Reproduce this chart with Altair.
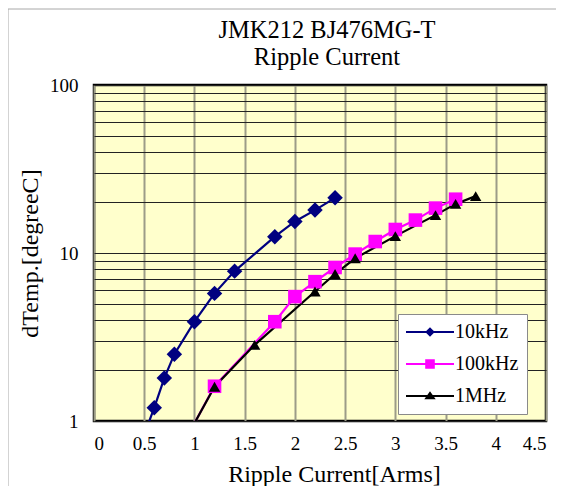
import altair as alt
import pandas as pd

series_names = ["10kHz", "100kHz", "1MHz"]
series_colors = ["#000080", "#FF00FF", "#000000"]
marker_shapes = ["diamond", "square", "triangle-up"]
marker_sizes = [240, 130, 230]

x_10k = [0.5, 0.6, 0.7, 0.8, 1.0, 1.2, 1.4, 1.8, 2.0, 2.2, 2.4]
y_10k = [0.83, 1.2, 1.8, 2.5, 3.9, 5.75, 7.8, 12.5, 15.4, 18.0, 21.3]
x_100k = [1.0, 1.2, 1.8, 2.0, 2.2, 2.4, 2.6, 2.8, 3.0, 3.2, 3.4, 3.6]
y_100k = [0.97, 1.61, 3.9, 5.5, 6.75, 8.2, 9.85, 11.7, 13.8, 15.7, 18.5, 20.9]
x_1m = [1.0, 1.2, 1.6, 2.2, 2.4, 2.6, 3.0, 3.4, 3.6, 3.8]
y_1m = [0.97, 1.6, 2.84, 5.9, 7.5, 9.3, 12.6, 16.8, 19.6, 21.8]

x_ticks = [0, 0.5, 1, 1.5, 2, 2.5, 3, 3.5, 4, 4.5]
y_grid = [1, 2, 3, 4, 5, 6, 7, 8, 9, 10, 20, 30, 40, 50, 60, 70, 80, 90, 100]

title_lines = ["JMK212 BJ476MG-T", "Ripple Current"]
x_title = "Ripple Current[Arms]"
y_title = "dTemp.[degreeC]"

FONT = "Liberation Serif, Times New Roman, serif"

rows = []
for name, xs, ys in zip(series_names, [x_10k, x_100k, x_1m], [y_10k, y_100k, y_1m]):
    for xv, yv in zip(xs, ys):
        rows.append({"series": name, "x": xv, "y": yv})
df = pd.DataFrame(rows)

# legend symbols: horizontal line + marker (custom paths)
line_part = "M-1,-0.17H7V0.17H-1Z"
legend_paths = [
    line_part + "M3,-0.8L3.8,0L3,0.8L2.2,0Z",
    line_part + "M2.2,-0.8H3.8V0.8H2.2Z",
    line_part + "M3,-0.78L3.95,0.55H2.05Z",
]

xscale = alt.Scale(domain=[0, 4.5], nice=False, zero=False)
yscale = alt.Scale(type="log", domain=[1, 100], nice=False)

xenc = alt.X(
    "x:Q", scale=xscale,
    axis=alt.Axis(
        title=x_title, values=x_ticks, format="~g", ticks=False, tickSize=0,
        labelPadding=13, labelFontSize=19, labelFont=FONT, labelColor="#000",
        titleFont=FONT, titleFontSize=24, titleFontWeight="normal", titleColor="#000",
        titleX=240, titleY=60, titleBaseline="alphabetic", titleAlign="center",
        grid=True, gridColor="#9c9c88", gridWidth=2, domain=False, labelOverlap=False,
    ),
)
yenc = alt.Y(
    "y:Q", scale=yscale,
    axis=alt.Axis(
        title=y_title, values=y_grid,
        labelExpr="(datum.value == 1 || datum.value == 10 || datum.value == 100) ? format(datum.value, 'd') : ''",
        ticks=False, tickSize=0, labelPadding=16, labelFontSize=19, labelFont=FONT,
        labelColor="#000", labelOverlap=False,
        titleFont=FONT, titleFontSize=24, titleFontWeight="normal", titleColor="#000",
        titleX=-64, titleY=168, titleBaseline="middle", titleAlign="center", titleAngle=-90,
        grid=True, gridColor="#222222", gridWidth=1, domain=False,
    ),
)

color_scale = alt.Scale(domain=series_names, range=series_colors)

lines = alt.Chart(df).mark_line(clip=True, strokeWidth=2.2).encode(
    x=xenc, y=yenc,
    color=alt.Color("series:N", scale=color_scale, legend=None),
    detail="series:N",
)

points = alt.Chart(df).transform_filter("datum.y >= 1").mark_point(
    filled=True, clip=True, opacity=1
).encode(
    x=xenc, y=yenc,
    color=alt.Color("series:N", scale=color_scale, legend=None),
    shape=alt.Shape("series:N", scale=alt.Scale(domain=series_names, range=marker_shapes), legend=None),
    size=alt.Size("series:N", scale=alt.Scale(domain=series_names, range=marker_sizes), legend=None),
)

legend_props = dict(
    title=None, orient="none", legendX=304, legendY=229,
    padding=8, strokeColor="#8a8a8a", fillColor="#ffffff",
    labelFont=FONT, labelFontSize=20, labelColor="#000",
    symbolSize=144, symbolOpacity=1, symbolStrokeWidth=0, symbolOffset=-4,
    labelOffset=33, rowPadding=12, columnPadding=0, columns=1, labelLimit=68,
)

legend_carrier = alt.Chart(df).mark_point(filled=True, clip=True, opacity=0).encode(
    x=xenc, y=yenc,
    color=alt.Color("series:N", scale=color_scale, legend=alt.Legend(**legend_props)),
    shape=alt.Shape(
        "series:N", scale=alt.Scale(domain=series_names, range=legend_paths),
        legend=alt.Legend(**legend_props),
    ),
)

frame = alt.Chart(alt.Data(values=[{}])).mark_rect(
    fill="transparent", stroke="#a8a8a8", strokeWidth=1, clip=False
).encode(
    x=alt.value(-86), x2=alt.value(480), y=alt.value(-76), y2=alt.value(420)
)

chart = alt.layer(frame, lines, points, legend_carrier).resolve_scale(
    color="independent", shape="independent", size="independent"
).properties(
    width=452, height=336,
    padding={"left": 86, "top": 77, "right": 10, "bottom": 65},
    autosize=alt.AutoSizeParams(type="none"),
    background="#ffffff",
    title=alt.Title(
        text=title_lines, font=FONT, fontSize=24.5, fontWeight="normal", color="#000",
        anchor="middle", dx=7, lineHeight=27, offset=-62,
    ),
).configure_view(
    fill="#FFFFCC", stroke="#000000", strokeWidth=2.5
).configure_axis(
    labelFont=FONT, titleFont=FONT
).configure_legend(
    labelFont=FONT
).configure_title(
    font=FONT
)

chart.save("out.html", embed_options={"renderer": "svg", "actions": False})
